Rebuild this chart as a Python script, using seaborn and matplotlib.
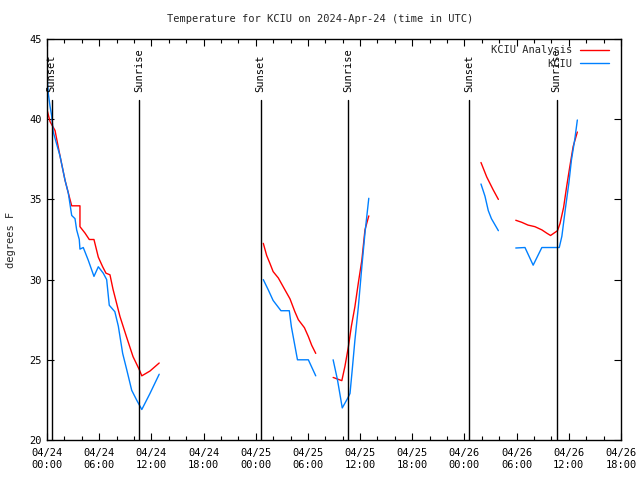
import numpy as np
import pandas as pd
import matplotlib
matplotlib.use("Agg")
import matplotlib.pyplot as plt
import seaborn as sns
from matplotlib.lines import Line2D

# ---- data (hours since 2024-04-24 00:00 UTC, degrees F) ----
anl_h1 = [0.0, 0.35, 0.92, 1.5, 2.07, 2.45, 2.84, 3.79, 3.79, 4.37, 4.86, 5.4, 5.9, 6.4, 6.78, 7.24, 7.59, 8.39, 9.16, 9.89, 10.6, 10.9, 11.84, 12.9]
anl_t1 = [40.6, 39.85, 39.3, 37.7, 36.2, 35.4, 34.6, 34.6, 33.3, 32.9, 32.5, 32.5, 31.4, 30.8, 30.4, 30.3, 29.4, 27.7, 26.4, 25.2, 24.4, 24.0, 24.3, 24.8]
anl_h2 = [24.87, 25.26, 25.64, 26.0, 26.6, 27.37, 27.94, 28.5, 28.9, 29.6, 30.05, 30.44, 30.9]
anl_t2 = [32.26, 31.5, 31.0, 30.5, 30.1, 29.35, 28.8, 28.0, 27.5, 27.0, 26.45, 25.9, 25.4]
anl_h3 = [32.9, 33.9, 34.26, 34.65, 35.0, 35.4, 35.8, 36.2, 36.56, 37.0]
anl_t3 = [23.9, 23.7, 24.6, 25.8, 27.1, 28.3, 29.8, 31.2, 33.1, 33.97]
anl_h4 = [49.9, 50.56, 51.3, 51.9]
anl_t4 = [37.3, 36.4, 35.6, 35.0]
anl_h5 = [53.9, 54.6, 55.3, 56.1, 56.9, 57.45, 57.9, 58.7, 58.99, 59.4, 59.75, 60.1, 60.5, 60.98]
anl_t5 = [33.7, 33.57, 33.4, 33.3, 33.1, 32.9, 32.75, 33.05, 33.5, 34.5, 35.8, 37.0, 38.3, 39.2]

obs_h1 = [0.0, 0.15, 0.35, 0.54, 0.72, 1.5, 2.07, 2.45, 2.84, 3.22, 3.41, 3.71, 3.79, 4.17, 4.75, 5.4, 5.9, 6.47, 6.86, 7.16, 7.8, 8.2, 8.7, 9.16, 9.74, 10.3, 10.6, 10.9, 11.84, 12.9]
obs_t1 = [42.8, 41.6, 40.8, 40.2, 39.2, 37.7, 36.2, 35.4, 34.0, 33.8, 33.1, 32.5, 31.9, 32.0, 31.2, 30.2, 30.8, 30.4, 30.0, 28.4, 28.0, 27.1, 25.4, 24.4, 23.1, 22.5, 22.2, 21.9, 22.9, 24.1]
obs_h2 = [24.87, 25.45, 26.0, 26.9, 27.86, 28.1, 28.8, 30.05, 30.9]
obs_t2 = [30.0, 29.35, 28.7, 28.06, 28.06, 27.06, 25.0, 25.0, 24.0]
obs_h3 = [32.9, 33.4, 33.95, 34.57, 34.84, 35.1, 35.4, 35.8, 36.2, 36.56, 37.0]
obs_t3 = [25.0, 23.75, 22.0, 22.6, 22.9, 24.4, 26.2, 28.3, 30.8, 32.9, 35.07]
obs_h4 = [49.9, 50.36, 50.74, 51.1, 51.9]
obs_t4 = [35.96, 35.2, 34.3, 33.8, 33.05]
obs_h5 = [53.9, 54.96, 55.9, 56.9, 58.9, 59.2, 59.6, 60.0, 60.3, 60.7, 60.98]
obs_t5 = [31.97, 32.0, 30.9, 32.0, 32.0, 32.7, 34.4, 36.0, 37.45, 38.8, 39.95]

sun_h = [0.54, 10.6, 24.57, 34.65, 48.56, 58.6]
sun_labels = ["Sunset", "Sunrise", "Sunset", "Sunrise", "Sunset", "Sunrise"]

xtick_h = [0, 6, 12, 18, 24, 30, 36, 42, 48, 54, 60, 66]
xtick_labels = ["04/24\n00:00", "04/24\n06:00", "04/24\n12:00", "04/24\n18:00",
                "04/25\n00:00", "04/25\n06:00", "04/25\n12:00", "04/25\n18:00",
                "04/26\n00:00", "04/26\n06:00", "04/26\n12:00", "04/26\n18:00"]
ytick_vals = [20, 25, 30, 35, 40, 45]

title = "Temperature for KCIU on 2024-Apr-24 (time in UTC)"
ylabel = "degrees F"
series_names = ["KCIU Analysis", "KCIU"]
anl_color = "#ff0000"
obs_color = "#0080ff"


def build(hs, ts):
    rows = []
    for seg, (h, t) in enumerate(zip(hs, ts)):
        for a, b in zip(h, t):
            rows.append((seg, a, b))
    return pd.DataFrame(rows, columns=["seg", "h", "t"])


anl = build([anl_h1, anl_h2, anl_h3, anl_h4, anl_h5], [anl_t1, anl_t2, anl_t3, anl_t4, anl_t5])
obs = build([obs_h1, obs_h2, obs_h3, obs_h4, obs_h5], [obs_t1, obs_t2, obs_t3, obs_t4, obs_t5])

sns.set_theme(style="white")
plt.rcParams["font.family"] = ["DejaVu Sans Mono"]
plt.rcParams["font.size"] = 7

fig = plt.figure(figsize=(6.4, 4.8), dpi=100)
ax = fig.add_axes([47 / 640, 1 - 440 / 480, 574 / 640, 401 / 480])

sns.lineplot(data=anl, x="h", y="t", units="seg", estimator=None, sort=False,
             color=anl_color, linewidth=1.0, ax=ax)
sns.lineplot(data=obs, x="h", y="t", units="seg", estimator=None, sort=False,
             color=obs_color, linewidth=1.0, ax=ax)

ax.set_xlim(0, 66)
ax.set_ylim(20, 45)

for h, lab in zip(sun_h, sun_labels):
    ax.plot([h, h], [20, 41.2], color="black", linewidth=1.0)
    ax.text(h, 41.7, lab, rotation=90, ha="center", va="bottom", fontsize=7.5, color="black")

ax.set_xticks(xtick_h)
ax.set_xticklabels(xtick_labels)
ax.set_xticks(np.arange(0, 67, 2), minor=True)
ax.set_yticks(ytick_vals)
ax.set_yticklabels([str(v) for v in ytick_vals])
ax.tick_params(axis="both", which="both", direction="in", top=True, right=True,
               bottom=True, left=True, colors="black", labelsize=7.5)
ax.tick_params(axis="both", which="major", length=5, width=0.8)
ax.tick_params(axis="x", which="minor", length=3, width=0.8)
ax.tick_params(axis="x", which="major", pad=6)
ax.set_xlabel("")
ax.set_ylabel(ylabel, fontsize=7.5, labelpad=10)
for s in ax.spines.values():
    s.set_visible(True)
    s.set_color("black")
    s.set_linewidth(1.0)

fig.text(0.5, 1 - 19 / 480, title, ha="center", va="center", fontsize=7.5)

handles = [Line2D([], [], color=anl_color, linewidth=1.0),
           Line2D([], [], color=obs_color, linewidth=1.0)]
ax.legend(handles, series_names, loc="upper right", frameon=False, markerfirst=False,
          fontsize=7.5, handlelength=2.8, handletextpad=0.7, labelspacing=0.35,
          borderaxespad=0.2, bbox_to_anchor=(0.99, 1.0))

fig.savefig("out.png", dpi=100)
